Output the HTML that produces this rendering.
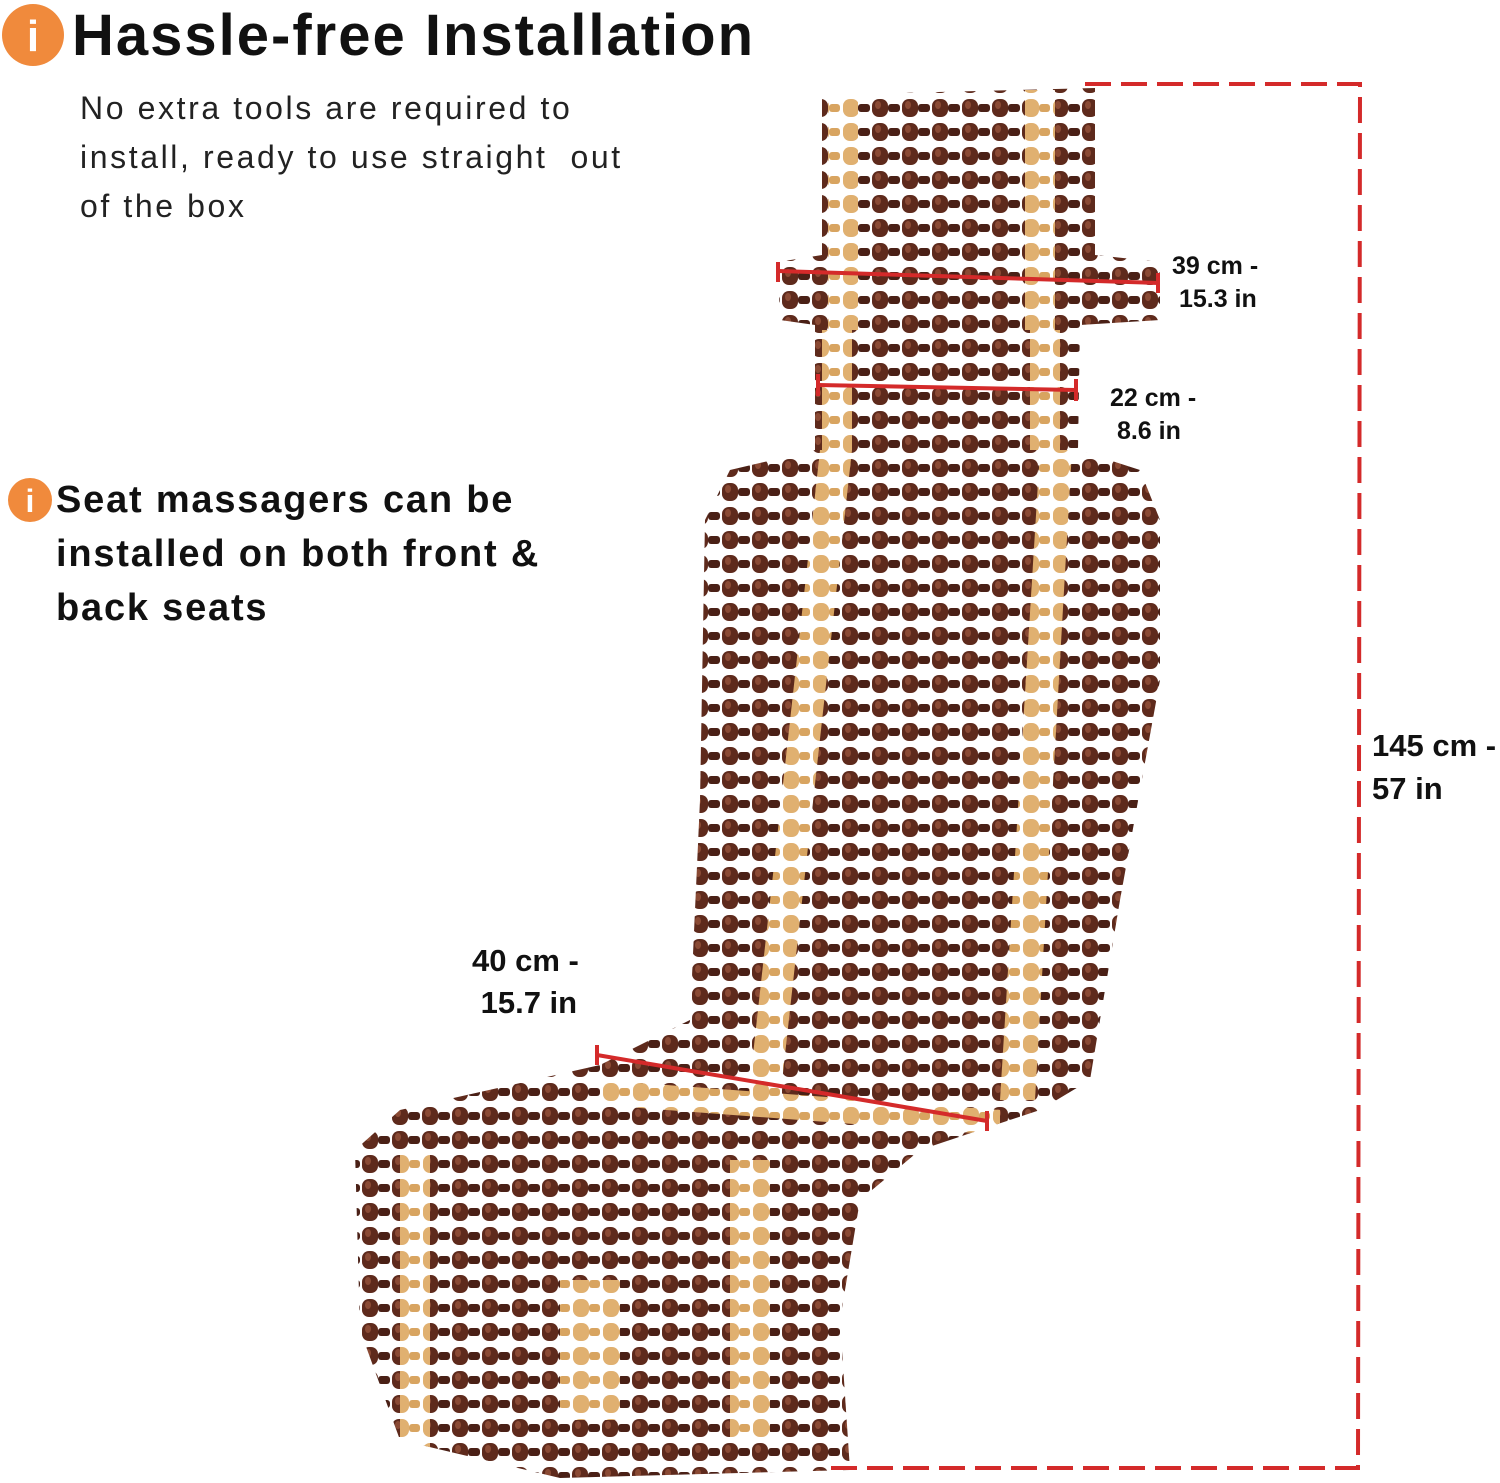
<!DOCTYPE html>
<html><head><meta charset="utf-8"><style>
html,body{margin:0;padding:0;background:#fff;}
body{width:1500px;height:1483px;position:relative;overflow:hidden;font-family:"Liberation Sans",sans-serif;}
.t{position:absolute;color:#111;white-space:nowrap;}
</style></head><body>
<svg width="1500" height="1483" style="position:absolute;left:0;top:0">
<defs>
<pattern id="beads" width="30" height="24" patternUnits="userSpaceOnUse">
<rect x="0" y="0" width="30" height="24" fill="#fff"/>
<rect x="2" y="3" width="16" height="18" rx="7" fill="#5e2a1c"/>
<rect x="18" y="8" width="12" height="8" rx="3" fill="#4a2016"/>
<ellipse cx="8" cy="9" rx="3" ry="4" fill="#8a4a34"/>
</pattern>
<pattern id="light" width="30" height="24" patternUnits="userSpaceOnUse">
<rect x="0" y="0" width="30" height="24" fill="#fff"/>
<rect x="3" y="3" width="16" height="18" rx="7" fill="#e0b070"/>
<rect x="19" y="8" width="11" height="8" rx="3" fill="#d8a460"/>
</pattern>
<clipPath id="seat">
<path d="M822,95 L1095,88 L1095,255 L1160,262 L1160,320 L1080,325 L1078,450 L1140,470 L1160,520 L1160,680 L1120,900 L1090,1080 L1040,1110 L920,1150 L860,1200 L840,1320 L850,1470 L560,1478 L400,1440 L360,1330 L355,1150 L400,1110 L600,1065 L690,1020 L700,800 L705,520 L730,470 L815,450 L815,325 L780,320 L778,262 L822,255 Z"/>
</clipPath>
</defs>
<g clip-path="url(#seat)">
<rect x="340" y="80" width="840" height="1410" fill="url(#beads)"/>
<g fill="url(#light)">
<rect x="828" y="90" width="30" height="240"/>
<rect x="1025" y="90" width="30" height="240"/>
<rect x="822" y="330" width="30" height="120"/>
<rect x="1030" y="330" width="30" height="120"/>
<polygon points="820,450 852,450 780,1100 748,1100"/>
<polygon points="1040,450 1072,450 1035,1100 1000,1100"/>
<polygon points="400,1150 430,1150 430,1470 400,1470"/>
<polygon points="560,1280 620,1280 620,1420 560,1420"/>
<polygon points="730,1160 770,1160 770,1440 730,1440"/>
<polygon points="600,1080 1000,1110 1000,1135 600,1105"/>
</g>
</g>
<g stroke="#d42a2a" stroke-width="4" fill="none">
<path d="M1085,84 L1360,84 L1358,1468 L830,1468" stroke-dasharray="26,10"/>
<line x1="778" y1="271" x2="1158" y2="283"/>
<line x1="778" y1="262" x2="778" y2="282"/>
<line x1="1158" y1="273" x2="1158" y2="293"/>
<line x1="818" y1="385" x2="1076" y2="390"/>
<line x1="818" y1="374" x2="818" y2="396"/>
<line x1="1076" y1="379" x2="1076" y2="401"/>
<line x1="597" y1="1055" x2="987" y2="1121"/>
<line x1="597" y1="1045" x2="597" y2="1065"/>
<line x1="987" y1="1111" x2="987" y2="1131"/>
</g>
<circle cx="33" cy="35" r="31" fill="#f08a3c"/>
<text x="33" y="51" font-family="Liberation Sans" font-weight="bold" font-size="44" fill="#fff" text-anchor="middle">i</text>
<circle cx="30" cy="500" r="22" fill="#f08a3c"/>
<text x="30" y="512" font-family="Liberation Sans" font-weight="bold" font-size="32" fill="#fff" text-anchor="middle">i</text>
</svg>
<div class="t" style="left:72px;top:2px;font-size:58px;font-weight:bold;letter-spacing:2px">Hassle-free Installation</div>
<div class="t" style="left:80px;top:84px;font-size:32px;line-height:49px;color:#222;letter-spacing:2.6px">No extra tools are required to<br>install, ready to use straight&nbsp; out<br>of the box</div>
<div class="t" style="left:56px;top:473px;font-size:38px;line-height:54px;font-weight:bold;letter-spacing:1.8px">Seat massagers can be<br>installed on both front &amp;<br>back seats</div>
<div class="t" style="left:1172px;top:250px;font-size:25px;line-height:33px;font-weight:bold">39 cm -<br>&nbsp;15.3 in</div>
<div class="t" style="left:1110px;top:382px;font-size:25px;line-height:33px;font-weight:bold">22 cm -<br>&nbsp;8.6 in</div>
<div class="t" style="left:1372px;top:724px;font-size:31px;line-height:43px;font-weight:bold">145 cm -<br>57 in</div>
<div class="t" style="left:472px;top:940px;font-size:31px;line-height:42px;font-weight:bold">40 cm -<br>&nbsp;15.7 in</div>
</body></html>
